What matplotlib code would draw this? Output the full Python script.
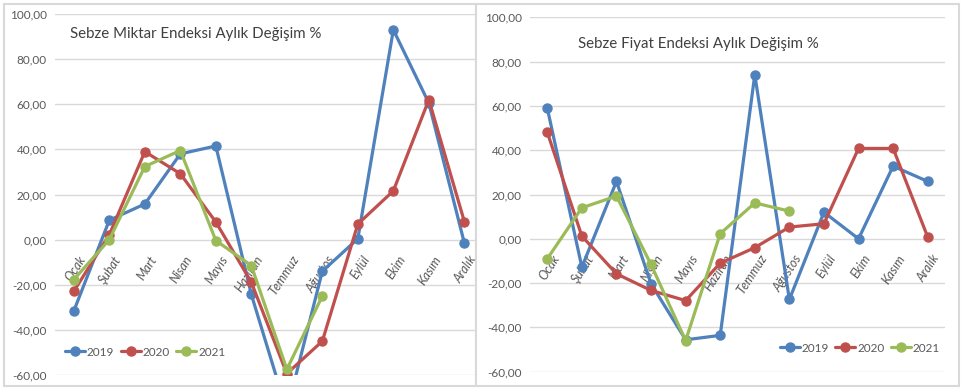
import matplotlib
matplotlib.use("Agg")
import matplotlib.pyplot as plt
from matplotlib.patches import Rectangle
from matplotlib.ticker import FuncFormatter

plt.rcParams['font.family'] = ['Lato', 'DejaVu Sans']

months = ['Ocak', 'Şubat', 'Mart', 'Nisan', 'Mayıs', 'Haziran',
          'Temmuz', 'Ağustos', 'Eylül', 'Ekim', 'Kasım', 'Aralık']
years = ['2019', '2020', '2021']
colors = ['#4F81BD', '#C0504D', '#9BBB59']

# miktar endeksi (sol grafik)
miktar_2019 = [-31.6, 8.6, 15.8, 38.0, 41.5, -24.3, -76.0, -14.0, 0.4, 93.0, 60.5, -1.5]
miktar_2020 = [-22.9, 2.2, 39.0, 29.2, 7.8, -18.9, -59.4, -45.0, 6.9, 21.6, 62.0, 8.0]
miktar_2021 = [-17.7, 0.0, 32.4, 39.5, -0.4, -11.5, -57.5, -25.0]

# fiyat endeksi (sag grafik)
fiyat_2019 = [59.0, -12.8, 25.9, -20.3, -45.6, -43.6, 74.1, -27.4, 12.0, 0.0, 32.8, 25.9]
fiyat_2020 = [48.1, 1.2, -15.8, -23.3, -27.9, -11.0, -4.0, 5.3, 6.8, 40.8, 40.8, 0.8]
fiyat_2021 = [-9.0, 14.0, 19.3, -11.6, -46.0, 2.3, 16.2, 12.5]

W, H = 965, 392
fig = plt.figure(figsize=(W / 100, H / 100), dpi=100)


def px_box(x0, y0, x1, y1):
    # piksel (ustten) -> figure fraction
    return [x0 / W, 1 - y1 / H, (x1 - x0) / W, (y1 - y0) / H]


# panel cerceveleri
for (x0, y0, x1, y1) in [(4, 4, 476, 386), (476, 4, 959, 386)]:
    b = px_box(x0, y0, x1, y1)
    fig.patches.append(Rectangle((b[0], b[1]), b[2], b[3], transform=fig.transFigure,
                                 facecolor='white', edgecolor='#d9d9d9', linewidth=1.5, zorder=-10))


def draw(ax, series, title, title_xy, xlim, legend_xy, legend_loc):
    for vals, c, lab in zip(series, colors, years):
        ax.plot(range(len(vals)), vals, color=c, lw=2.3, marker='o', ms=6.5,
                label=lab, solid_capstyle='round')
    ax.set_ylim(-60, 100)
    ax.set_xlim(*xlim)
    ax.set_yticks(range(-60, 101, 20))
    ax.yaxis.set_major_formatter(FuncFormatter(lambda v, p: f"{v:.2f}".replace('.', ',')))
    ax.tick_params(axis='y', length=0, labelsize=8.5, labelcolor='#595959', pad=6)
    ax.set_xticks([])
    ax.grid(axis='y', color='#d9d9d9', lw=1)
    ax.set_axisbelow(True)
    for s in ax.spines.values():
        s.set_visible(False)
    ax.patch.set_alpha(0)
    for i, m in enumerate(months):
        ax.annotate(m, xy=(i, 0), xytext=(3, -10), textcoords='offset points',
                    rotation=57, rotation_mode='anchor', ha='right', va='top',
                    fontsize=9, style='italic', color='#595959', zorder=1)
    fig.text(title_xy[0] / W, 1 - title_xy[1] / H, title, fontsize=10.8,
             color='#404040', ha='center', va='center')
    ax.legend(loc=legend_loc, bbox_to_anchor=(legend_xy[0] / W, 1 - legend_xy[1] / H),
              bbox_transform=fig.transFigure, ncol=3, frameon=False, fontsize=8.5,
              handlelength=1.7, handletextpad=0.15, columnspacing=0.55,
              borderpad=0, borderaxespad=0, labelcolor='#595959')


ax1 = fig.add_axes(px_box(55, 14, 475, 375))
draw(ax1, [miktar_2019, miktar_2020, miktar_2021],
     'Sebze Miktar Endeksi Aylık Değişim %', (196, 34), (-0.53, 11.3),
     (65, 352), 'center left')

ax2 = fig.add_axes(px_box(530, 17.3, 945, 371.7))
draw(ax2, [fiyat_2019, fiyat_2020, fiyat_2021],
     'Sebze Fiyat Endeksi Aylık Değişim %', (698, 44), (-0.5, 11.5),
     (940, 348), 'center right')

fig.savefig('out.png', dpi=100)
